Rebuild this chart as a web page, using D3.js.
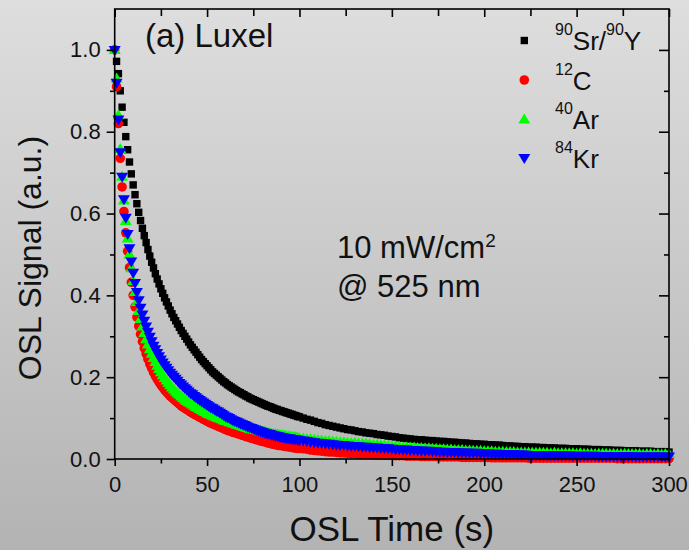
<!DOCTYPE html>
<html><head><meta charset="utf-8">
<script src="https://cdn.jsdelivr.net/npm/d3@7"></script>
<style>html,body{margin:0;padding:0;overflow:hidden;background:#d0d0d0}</style>
</head><body>
<script>
// ---------- data ----------
const times = [
0,1,2,3,4,5,6,7,8,9,
10,11,12,13,14,15,16,17,18,19,
20,21,22,23,24,25,26,27,28,29,
30,31,32,33,34,35,36,37,38,39,
40,41,42,43,44,45,46,47,48,49,
50,51,52,53,54,55,56,57,58,59,
60,61,62,63,64,65,66,67,68,69,
70,71,72,73,74,75,76,77,78,79,
80,81,82,83,84,85,86,87,88,89,
90,91,92,93,94,95,96,97,98,99,
100,
102,104,106,108,110,112,114,116,118,120,
122,124,126,128,130,132,134,136,138,140,
142,144,146,148,150,152,154,156,158,160,
162,164,166,168,170,172,174,176,178,180,
182,184,186,188,190,192,194,196,198,200,
202,204,206,208,210,212,214,216,218,220,
222,224,226,228,230,232,234,236,238,240,
242,244,246,248,250,252,254,256,258,260,
262,264,266,268,270,272,274,276,278,280,
282,284,286,288,290,292,294,296,298,300];

const srY = [
1.000,0.972,0.942,0.900,0.860,0.823,0.788,0.756,0.726,0.697,
0.670,0.646,0.624,0.603,0.583,0.564,0.546,0.529,0.512,0.496,
0.481,0.467,0.453,0.440,0.428,0.416,0.405,0.394,0.384,0.374,
0.364,0.355,0.346,0.338,0.330,0.322,0.314,0.307,0.300,0.293,
0.286,0.279,0.273,0.267,0.261,0.255,0.249,0.243,0.238,0.233,
0.228,0.223,0.218,0.213,0.209,0.205,0.201,0.197,0.193,0.189,
0.186,0.182,0.179,0.176,0.173,0.170,0.167,0.164,0.162,0.159,
0.157,0.154,0.152,0.149,0.147,0.145,0.143,0.141,0.139,0.137,
0.135,0.133,0.131,0.129,0.128,0.126,0.124,0.122,0.121,0.119,
0.118,0.116,0.115,0.113,0.112,0.110,0.109,0.107,0.106,0.104,
0.103,
0.100,0.097,0.095,0.092,0.089,0.087,0.084,0.082,0.080,0.078,
0.076,0.074,0.072,0.071,0.069,0.067,0.066,0.064,0.063,0.062,
0.060,0.059,0.058,0.056,0.055,0.054,0.052,0.051,0.050,0.049,
0.048,0.047,0.047,0.046,0.045,0.045,0.044,0.043,0.043,0.042,
0.041,0.041,0.040,0.039,0.039,0.038,0.037,0.037,0.036,0.036,
0.035,0.035,0.034,0.034,0.033,0.032,0.032,0.031,0.031,0.030,
0.030,0.029,0.029,0.029,0.028,0.028,0.027,0.027,0.027,0.026,
0.026,0.026,0.025,0.025,0.025,0.024,0.024,0.024,0.023,0.023,
0.023,0.022,0.022,0.022,0.021,0.021,0.021,0.020,0.020,0.020,
0.020,0.019,0.019,0.019,0.019,0.018,0.018,0.018,0.018,0.017];

const c12 = [
1.000,0.910,0.820,0.735,0.665,0.605,0.553,0.508,0.468,0.432,
0.400,0.372,0.347,0.325,0.305,0.287,0.271,0.257,0.244,0.232,
0.222,0.212,0.203,0.195,0.188,0.181,0.175,0.169,0.164,0.159,
0.154,0.150,0.146,0.142,0.138,0.134,0.130,0.127,0.124,0.121,
0.118,0.115,0.112,0.110,0.107,0.105,0.102,0.100,0.097,0.095,
0.092,0.090,0.088,0.086,0.084,0.082,0.080,0.078,0.076,0.074,
0.072,0.070,0.069,0.067,0.066,0.064,0.063,0.061,0.060,0.058,
0.057,0.055,0.054,0.052,0.051,0.050,0.048,0.047,0.046,0.044,
0.043,0.042,0.041,0.039,0.038,0.037,0.036,0.035,0.034,0.033,
0.033,0.032,0.031,0.030,0.030,0.029,0.028,0.027,0.027,0.026,
0.026,
0.025,0.024,0.022,0.021,0.020,0.019,0.018,0.017,0.017,0.016,
0.015,0.015,0.014,0.013,0.013,0.012,0.012,0.011,0.011,0.010,
0.010,0.010,0.009,0.009,0.009,0.008,0.008,0.008,0.007,0.007,
0.007,0.007,0.006,0.006,0.006,0.006,0.006,0.005,0.005,0.005,
0.005,0.005,0.005,0.004,0.004,0.004,0.004,0.004,0.004,0.004,
0.004,0.003,0.003,0.003,0.003,0.003,0.003,0.003,0.003,0.003,
0.003,0.002,0.002,0.002,0.002,0.002,0.002,0.002,0.002,0.002,
0.002,0.002,0.002,0.002,0.002,0.002,0.002,0.002,0.002,0.002,
0.002,0.002,0.002,0.002,0.002,0.001,0.001,0.001,0.001,0.001,
0.001,0.001,0.001,0.001,0.001,0.001,0.001,0.001,0.001,0.001];

const ar40 = [
1.000,0.930,0.840,0.758,0.690,0.632,0.582,0.539,0.500,0.466,
0.435,0.408,0.384,0.362,0.342,0.324,0.308,0.293,0.280,0.268,
0.257,0.247,0.237,0.228,0.220,0.212,0.205,0.198,0.192,0.186,
0.180,0.175,0.170,0.165,0.161,0.157,0.153,0.149,0.145,0.142,
0.139,0.136,0.133,0.130,0.127,0.125,0.122,0.120,0.117,0.115,
0.112,0.110,0.108,0.106,0.104,0.102,0.100,0.099,0.097,0.095,
0.093,0.092,0.090,0.089,0.087,0.086,0.084,0.083,0.081,0.080,
0.078,0.077,0.076,0.074,0.073,0.072,0.071,0.070,0.069,0.068,
0.067,0.066,0.065,0.064,0.063,0.062,0.061,0.061,0.060,0.059,
0.058,0.058,0.057,0.056,0.055,0.055,0.054,0.054,0.053,0.052,
0.051,
0.050,0.049,0.048,0.047,0.046,0.045,0.044,0.044,0.043,0.042,
0.041,0.041,0.040,0.039,0.039,0.038,0.037,0.037,0.036,0.035,
0.035,0.034,0.033,0.032,0.031,0.031,0.030,0.029,0.029,0.028,
0.028,0.027,0.027,0.026,0.026,0.025,0.025,0.024,0.024,0.023,
0.023,0.022,0.022,0.022,0.021,0.021,0.020,0.020,0.020,0.019,
0.019,0.019,0.018,0.018,0.018,0.017,0.017,0.017,0.016,0.016,
0.016,0.016,0.015,0.015,0.015,0.015,0.015,0.014,0.015,0.014,
0.014,0.014,0.014,0.014,0.013,0.014,0.013,0.013,0.013,0.012,
0.013,0.013,0.013,0.012,0.013,0.012,0.012,0.013,0.012,0.012,
0.012,0.012,0.011,0.012,0.012,0.011,0.012,0.011,0.012,0.012];

const kr84 = [
1.000,0.920,0.830,0.750,0.690,0.635,0.590,0.550,0.515,0.483,
0.455,0.430,0.408,0.388,0.370,0.353,0.338,0.324,0.311,0.299,
0.288,0.277,0.268,0.259,0.251,0.243,0.236,0.229,0.223,0.217,
0.211,0.206,0.201,0.196,0.191,0.186,0.182,0.177,0.173,0.169,
0.165,0.161,0.158,0.154,0.151,0.147,0.144,0.141,0.138,0.135,
0.132,0.129,0.126,0.124,0.121,0.118,0.116,0.113,0.110,0.107,
0.104,0.102,0.100,0.097,0.095,0.093,0.091,0.089,0.087,0.085,
0.083,0.081,0.079,0.077,0.076,0.074,0.072,0.070,0.069,0.067,
0.066,0.064,0.063,0.062,0.061,0.059,0.058,0.057,0.056,0.055,
0.054,0.053,0.052,0.051,0.051,0.050,0.049,0.048,0.048,0.047,
0.046,
0.045,0.044,0.042,0.041,0.040,0.039,0.038,0.037,0.036,0.035,
0.034,0.034,0.033,0.032,0.032,0.031,0.030,0.030,0.029,0.028,
0.028,0.027,0.026,0.026,0.025,0.024,0.024,0.023,0.023,0.022,
0.022,0.021,0.021,0.020,0.020,0.019,0.019,0.018,0.018,0.017,
0.017,0.017,0.016,0.016,0.016,0.015,0.015,0.015,0.014,0.014,
0.014,0.013,0.013,0.013,0.012,0.012,0.012,0.012,0.011,0.011,
0.011,0.010,0.010,0.010,0.010,0.010,0.010,0.009,0.009,0.009,
0.009,0.009,0.009,0.008,0.008,0.008,0.008,0.008,0.008,0.008,
0.007,0.007,0.007,0.007,0.007,0.007,0.007,0.007,0.007,0.007,
0.006,0.006,0.006,0.006,0.006,0.006,0.006,0.006,0.006,0.006];

const seriesNames = [["90","Sr/","90","Y"],["12","C"],["40","Ar"],["84","Kr"]];
const seriesColors = ["#000000","#ff0000","#00ff00","#0000ff"];
const seriesShapes = ["square","circle","triUp","triDown"];
const seriesValues = [srY, c12, ar40, kr84];

const xMajor = [0,50,100,150,200,250,300];
const xMinor = [25,75,125,175,225,275];
const yMajor = [0.0,0.2,0.4,0.6,0.8,1.0];
const yMinor = [0.1,0.3,0.5,0.7,0.9];

// ---------- layout ----------
const W = 689, H = 550;
const L = 114.7, R = 669, T = 9, B = 459;
const FONT = "'Liberation Sans', Arial, Helvetica, sans-serif";

const svg = d3.select("body").append("svg").attr("width", W).attr("height", H)
  .style("display","block").style("font-family", FONT);

const defs = svg.append("defs");
const grad = defs.append("linearGradient").attr("id","bg").attr("x1",0).attr("y1",0).attr("x2",0).attr("y2",1);
grad.append("stop").attr("offset","0%").attr("stop-color","#dedede");
grad.append("stop").attr("offset","100%").attr("stop-color","#b3b3b3");
svg.append("rect").attr("width",W).attr("height",H).attr("fill","url(#bg)");

const x = d3.scaleLinear().domain([0,300]).range([L,R]);
const y = d3.scaleLinear().domain([0,1.1]).range([B,T]);

function shapePath(kind){
  if (kind === "square") return "M-3.7,-3.7H3.7V3.7H-3.7Z";
  if (kind === "circle") return d3.symbol(d3.symbolCircle, Math.PI*4.8*4.8)();
  if (kind === "triUp") return "M0,-6L6,4L-6,4Z";
  return "M0,6L6,-4L-6,-4Z";
}

// data points
const plot = svg.append("g");
seriesValues.forEach((vals, si) => {
  const pts = times.map((t,i) => ({t, v: vals[i]})).filter(d => d.v !== undefined);
  plot.append("g").selectAll("path").data(pts).join("path")
    .attr("d", shapePath(seriesShapes[si]))
    .attr("transform", d => `translate(${x(d.t)},${y(d.v)})`)
    .attr("fill", seriesColors[si]);
});

// axes
function styleAxis(g){
  g.select(".domain").remove();
  g.selectAll("line").attr("stroke","#000").attr("stroke-width",1.6);
  g.selectAll("text").attr("fill","#111").style("font-family",FONT).style("font-size","22px");
}
svg.append("g").attr("transform",`translate(0,${B})`)
  .call(d3.axisBottom(x).tickValues(xMajor).tickSize(7).tickPadding(10).tickFormat(d3.format("d"))).call(styleAxis);
svg.append("g").attr("transform",`translate(0,${B})`)
  .call(d3.axisBottom(x).tickValues(xMinor).tickSize(4.5).tickFormat("")).call(styleAxis);
svg.append("g").attr("transform",`translate(0,${T})`)
  .call(d3.axisTop(x).tickValues(xMajor).tickSize(-8).tickFormat("")).call(styleAxis);
svg.append("g").attr("transform",`translate(0,${T})`)
  .call(d3.axisTop(x).tickValues(xMinor).tickSize(-7).tickFormat("")).call(styleAxis);
svg.append("g").attr("transform",`translate(${L},0)`)
  .call(d3.axisLeft(y).tickValues(yMajor).tickSize(8).tickPadding(6).tickFormat(d3.format(".1f"))).call(styleAxis);
svg.append("g").attr("transform",`translate(${L},0)`)
  .call(d3.axisLeft(y).tickValues(yMinor).tickSize(4.7).tickFormat("")).call(styleAxis);
svg.append("g").attr("transform",`translate(${R},0)`)
  .call(d3.axisRight(y).tickValues(yMajor).tickSize(-10).tickFormat("")).call(styleAxis);
svg.append("g").attr("transform",`translate(${R},0)`)
  .call(d3.axisRight(y).tickValues(yMinor).tickSize(-5).tickFormat("")).call(styleAxis);

// frame
svg.append("rect").attr("x",L).attr("y",T).attr("width",R-L).attr("height",B-T)
  .attr("fill","none").attr("stroke","#000").attr("stroke-width",1.6);

// axis titles
svg.append("text").attr("x",(L+R)/2).attr("y",541).attr("text-anchor","middle")
  .style("font-size","35px").attr("fill","#111").text("OSL Time (s)");
svg.append("text").attr("transform",`translate(41,258) rotate(-90)`).attr("text-anchor","middle")
  .style("font-size","32px").attr("fill","#111").text("OSL Signal (a.u.)");

// panel label
svg.append("text").attr("x",145).attr("y",47).style("font-size","33px").attr("fill","#111").text("(a) Luxel");

// annotation
const ann1 = svg.append("text").attr("x",337).attr("y",258).style("font-size","31px").attr("fill","#111");
ann1.append("tspan").text("10 mW/cm");
ann1.append("tspan").attr("dy",-11).style("font-size","19px").text("2");
svg.append("text").attr("x",337).attr("y",297).style("font-size","31px").attr("fill","#111").text("@ 525 nm");

// legend
const legBase = [50, 89.5, 129, 167.5];
seriesNames.forEach((parts, si) => {
  const by = legBase[si];
  svg.append("path").attr("d", shapePath(seriesShapes[si]))
    .attr("transform", `translate(524.3,${by-9.5})`).attr("fill", seriesColors[si]);
  const t = svg.append("text").attr("x",555).attr("y",by).attr("fill","#111").style("font-size","26px");
  parts.forEach((p, k) => {
    const sup = (k % 2 === 0);
    t.append("tspan").attr("dy", sup ? -15 : 15).style("font-size", sup ? "16px" : "26px").text(p);
  });
});
</script>
</body></html>
